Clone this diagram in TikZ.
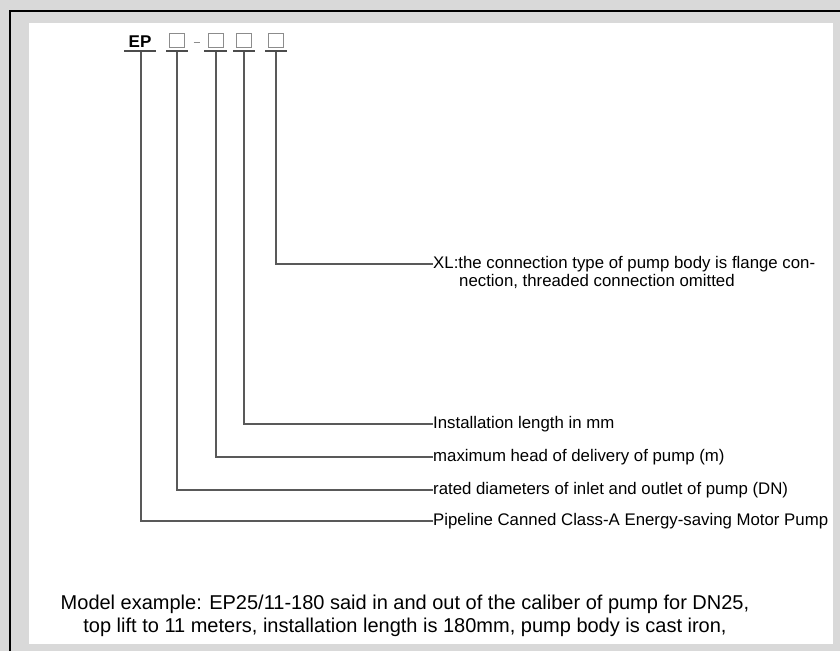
\documentclass[tikz,border=0pt]{standalone}
\usepackage{fontspec}
\setmainfont{Liberation Sans}
\begin{document}
\begin{tikzpicture}[x=1pt,y=-1pt,
  lbl/.style={anchor=west,inner sep=0pt,font=\fontsize{16.8}{19}\selectfont},
  lead/.style={draw=black!65,line width=1.5pt},
  bar/.style={draw=black!70,line width=2pt},
  codebox/.style={draw=black!45,line width=0.9pt,minimum width=15pt,minimum height=14pt,inner sep=0pt}]
\fill[black!15] (0,0) rectangle (840,651);
\useasboundingbox (0,0) rectangle (840,651);
\draw[line width=2.5pt] (10,651) -- (10,11) -- (840,11);
\fill[white] (29,23) rectangle (833,644);
% code
\node[anchor=south,inner sep=0pt,font=\fontsize{17}{17}\bfseries] (ep) at (140,48) {EP};
\node[codebox,anchor=south] (b1) at (177,48) {};
\node[codebox,anchor=south] (b2) at (216,48) {};
\node[codebox,anchor=south] (b3) at (244,48) {};
\node[codebox,anchor=south] (b4) at (276,48) {};
\node[inner sep=0pt] (dash) at (196.5,42) {\color{black!45}\rule{6pt}{1pt}};
\draw[bar] (124,51) -- (156,51);
\draw[bar] (166,51) -- (188,51);
\draw[bar] (204,51) -- (227,51);
\draw[bar] (233,51) -- (255,51);
\draw[bar] (265,51) -- (287,51);
% labels
\node[lbl] (xl) at (433,264) {XL:the connection type of pump body is flange con-};
\node[lbl,anchor=north west] (xl2) at (459,274) {nection, threaded connection omitted};
\node[lbl] (inst) at (433,424) {Installation length in mm};
\node[lbl] (head) at (433,457) {maximum head of delivery of pump (m)};
\node[lbl] (dn) at (433,490) {rated diameters of inlet and outlet of pump (DN)};
\node[lbl] (pipe) at (433,521) {Pipeline Canned Class-A Energy-saving Motor Pump};
\draw[lead] (276,52) |- (xl.west);
\draw[lead] (244,52) |- (inst.west);
\draw[lead] (216,52) |- (head.west);
\draw[lead] (177,52) |- (dn.west);
\draw[lead] (141,52) |- (pipe.west);
\node[align=center,inner sep=0pt,font=\fontsize{20}{23}\selectfont] (model) at (405,616) {Model example: EP25/11-180 said in and out of the caliber of pump for DN25,\\top lift to 11 meters, installation length is 180mm, pump body is cast iron,};
\end{tikzpicture}
\end{document}
